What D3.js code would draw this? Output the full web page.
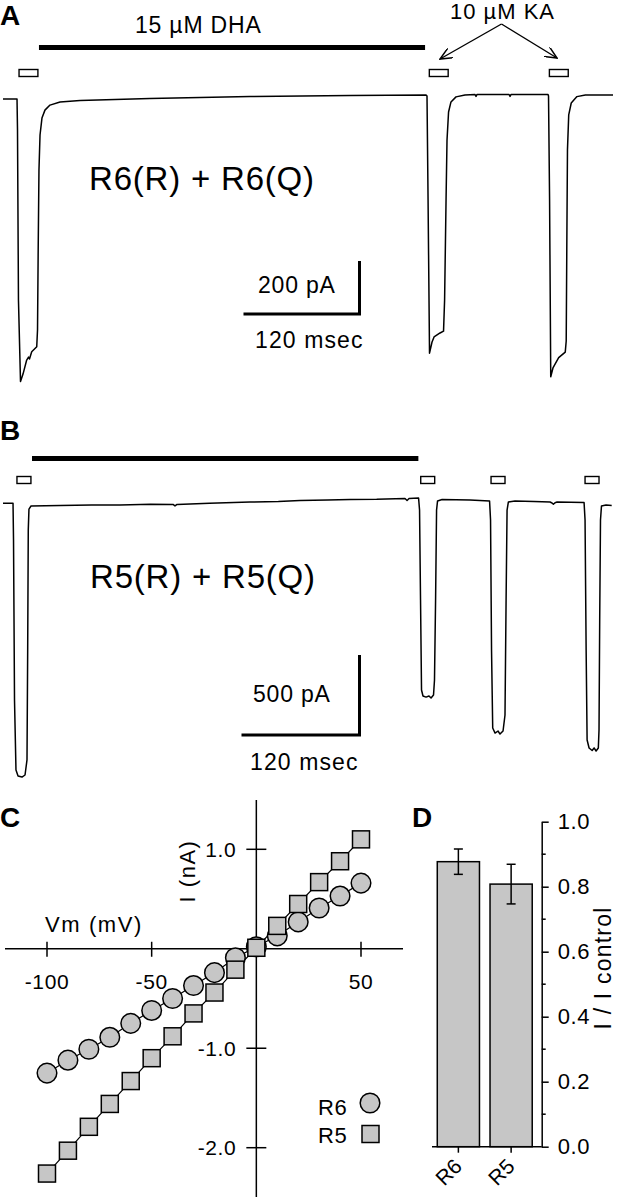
<!DOCTYPE html>
<html>
<head>
<meta charset="utf-8">
<script src="https://cdn.jsdelivr.net/npm/d3@7"></script>
<style>
  body { margin: 0; background: #fff; }
  svg { display: block; }
  text { font-family: "Liberation Sans", Arial, sans-serif; fill: #000; }
</style>
</head>
<body>
<svg width="622" height="1199"></svg>
<script>
// ---- panel A trace, time (ms) / current (pA)
var traceA = [[0,0],[14.5,0],[15,-117],[16,-759],[18.1,-1066],[20.7,-1038],[24.5,-985],[26.4,-974],[27.4,-981],
  [29.7,-954],[34.9,-935],[35.7,-872],[36.4,-570],[37.2,-268],[38.3,-136],[40.3,-72],[43.4,-42],[48.6,-23],
  [59,-11],[79.7,-6],[152,2],[255.5,9],[359,13],[437.6,15],[438.6,11],[439.7,-381],[441.2,-959],[443.8,-917],
  [445.9,-898],[452.1,-883],[455.7,-876],[456.8,-759],[458.3,-381],[459.3,-155],[460.9,-49],[463.4,-11],
  [468.6,8],[477.9,15],[488.3,17],[489.3,10],[490.4,17],[523.5,17],[524.5,10],[525.6,17],[563.8,17],[564.3,11],
  [565.4,-381],[566.6,-1048],[568.9,-1015],[574.8,-976],[581.6,-955],[582.6,-913],[583.2,-570],[583.9,-192],
  [585.2,-60],[587.8,-15],[593.7,9],[602.4,15],[631,15]];
// ---- panel B trace
var traceB = [[0,-2],[10.2,-2],[10.7,-231],[11.7,-1231],[13.2,-1669],[15.3,-1706],[19.3,-1713],[22.4,-1700],
  [24.4,-1606],[25.1,-919],[25.7,-169],[26.4,-38],[28.5,-19],[58,-16],[90,-12],[119,-13],[150,-8],[172.9,-9],
  [174.9,-18],[177,-9],[210,-2],[251.2,6],[280,9],[302,16],[330,18],[353,22],[380,23],[408.8,28],[410.9,16],
  [412.9,28],[422.6,31],[423.6,-44],[424.6,-606],[425.6,-1169],[427.1,-1206],[430.2,-1213],[433.2,-1206],
  [435.3,-1219],[437.8,-1200],[438.8,-1106],[439.9,-606],[440.9,-44],[441.9,13],[446.5,22],[474.9,19],
  [494.8,13],[495.8,-106],[496.8,-919],[498,-1406],[500.4,-1438],[503.4,-1425],[505.4,-1444],[508.5,-1425],
  [510.5,-1325],[511.6,-606],[512.6,-44],[513.9,6],[520.7,13],[540,9],[556.3,6],[558.3,0],[559.7,-8],
  [561.4,2],[563.4,6],[590.9,3],[591.9,-106],[593,-919],[594,-1481],[596,-1531],[599.1,-1547],[601.1,-1531],
  [603.1,-1550],[605.4,-1531],[606.1,-1419],[606.8,-731],[607.6,-106],[608.6,-19],[613.2,-13],[619,-16]];

// drug applications (ms)
var dhaA = [37.2, 436.6];
var kaA = [16.6, 441, 565.2];
var kaDurA = 19.5;
var dhaB = [29.5, 422.4];
var kaB = [14.2, 424.8, 496.3, 591.9];
var kaDurB = 14.2;

// ---- panel C: I-V
var ivVm = [-100,-90,-80,-70,-60,-50,-40,-30,-20,-10,0,10,20,30,40,50];
var ivR6 = [-1.25,-1.12,-1.01,-0.89,-0.75,-0.62,-0.50,-0.37,-0.24,-0.09,0.02,0.13,0.27,0.41,0.53,0.66];
var ivR5 = [-2.26,-2.03,-1.79,-1.56,-1.33,-1.10,-0.88,-0.65,-0.44,-0.21,0.01,0.23,0.45,0.67,0.88,1.10];
var vmTicks = [-100, -50, 50];
var iTicks = [1, -1, -2];

// ---- panel D
var barNames = ["R6", "R5"];
var barMeans = [0.877, 0.808];
var barErr = [0.039, 0.061];

var svg = d3.select("svg");
var gray = "#c6c6c6";
var fmt1 = function (d) { return d3.format(".1f")(d).replace("\u2212", "-"); };

svg.append("defs").append("marker")
  .attr("id", "arr").attr("viewBox", "0 0 12 10")
  .attr("refX", 11).attr("refY", 5)
  .attr("markerWidth", 13).attr("markerHeight", 11)
  .attr("markerUnits", "userSpaceOnUse").attr("orient", "auto")
  .append("path").attr("d", "M0,0 L11,5 L0,10")
  .attr("fill", "none").attr("stroke", "#000").attr("stroke-width", 1.4);

function label(x, y, txt, size, opts) {
  opts = opts || {};
  var t = svg.append("text").attr("x", x).attr("y", y)
    .style("font-size", size + "px").text(txt);
  if (opts.bold) t.style("font-weight", "bold");
  if (opts.anchor) t.attr("text-anchor", opts.anchor);
  if (opts.ls) t.style("letter-spacing", opts.ls + "px");
  if (opts.rot) t.attr("transform", "rotate(" + opts.rot + "," + x + "," + y + ")");
  return t;
}

function tracePanel(data, xs, ys, dha, dhaY, ka, kaDur, kaY, bar) {
  var line = d3.line().x(function (d) { return xs(d[0]); }).y(function (d) { return ys(d[1]); });
  svg.append("path").datum(data).attr("d", line)
    .attr("fill", "none").attr("stroke", "#000").attr("stroke-width", 1.5)
    .attr("stroke-linejoin", "round");
  svg.append("line").attr("x1", xs(dha[0])).attr("x2", xs(dha[1]))
    .attr("y1", dhaY).attr("y2", dhaY).attr("stroke", "#000").attr("stroke-width", 5);
  svg.selectAll(null).data(ka).enter().append("rect")
    .attr("x", function (d) { return xs(d); }).attr("y", kaY)
    .attr("width", function (d) { return xs(d + kaDur) - xs(d); }).attr("height", 7)
    .attr("fill", "#fff").attr("stroke", "#000").attr("stroke-width", 1.4);
  // scale bar
  var cx = bar.x, cy = bar.y;
  var w = xs(bar.ms) - xs(0), h = ys(0) - ys(bar.pA);
  svg.append("path").attr("d", "M" + (cx - w) + "," + cy + "H" + cx + "V" + (cy - h))
    .attr("fill", "none").attr("stroke", "#000").attr("stroke-width", 3);
}

// ================= A =================
var xA = d3.scaleLinear().domain([0, 631]).range([3, 613]);
var yA = d3.scaleLinear().domain([-1100, 0]).range([390.5, 99]);
label(0, 25, "A", 28, {bold: true});
label(135, 33, "15 µM DHA", 23, {ls: 0.8});
label(450, 19, "10 µM KA", 22, {ls: 1});
tracePanel(traceA, xA, yA, dhaA, 47.5, kaA, kaDurA, 69.5, {x: 359.5, y: 314, ms: 120, pA: 200});
svg.append("line").attr("x1", 501.5).attr("y1", 24).attr("x2", 440).attr("y2", 59)
  .attr("stroke", "#000").attr("stroke-width", 1.4).attr("marker-end", "url(#arr)");
svg.append("line").attr("x1", 501.5).attr("y1", 24).attr("x2", 557).attr("y2", 58)
  .attr("stroke", "#000").attr("stroke-width", 1.4).attr("marker-end", "url(#arr)");
label(89, 190, "R6(R) + R6(Q)", 33, {ls: 0.8});
label(258, 293, "200 pA", 23, {ls: 0.8});
label(255, 348, "120 msec", 23, {ls: 1.1});

// ================= B =================
var xB = d3.scaleLinear().domain([0, 619]).range([3, 611.7]);
var yB = d3.scaleLinear().domain([-1800, 100]).range([791, 487]);
label(0, 440, "B", 28, {bold: true});
tracePanel(traceB, xB, yB, dhaB, 458.5, kaB, kaDurB, 476.5, {x: 359.5, y: 735, ms: 120, pA: 500});
label(90, 588, "R5(R) + R5(Q)", 33, {ls: 0.8});
label(253, 702, "500 pA", 23, {ls: 0.8});
label(250, 770, "120 msec", 23, {ls: 1.1});

// ================= C =================
var xC = d3.scaleLinear().domain([-100, 50]).range([47, 361]);
var yC = d3.scaleLinear().domain([-2, 1]).range([1147.7, 849.3]);
label(0, 827, "C", 28, {bold: true});
var x0 = xC(0), y0 = yC(0);
svg.append("line").attr("x1", 5).attr("x2", 403).attr("y1", y0).attr("y2", y0)
  .attr("stroke", "#000").attr("stroke-width", 1.5);
svg.append("line").attr("x1", x0).attr("x2", x0).attr("y1", 800).attr("y2", 1197)
  .attr("stroke", "#000").attr("stroke-width", 1.5);
var cg = svg.append("g");
cg.selectAll(null).data(vmTicks).enter().append("line")
  .attr("x1", function (d) { return xC(d); }).attr("x2", function (d) { return xC(d); })
  .attr("y1", y0 - 7).attr("y2", y0 + 8).attr("stroke", "#000").attr("stroke-width", 1.5);
cg.selectAll(null).data(vmTicks).enter().append("text")
  .attr("x", function (d) { return xC(d); }).attr("y", y0 + 40)
  .attr("text-anchor", "middle").style("font-size", "21px").style("letter-spacing", "0.6px")
  .text(function (d) { return d; });
cg.selectAll(null).data(iTicks).enter().append("line")
  .attr("x1", x0 - 10).attr("x2", x0 + 10)
  .attr("y1", function (d) { return yC(d); }).attr("y2", function (d) { return yC(d); })
  .attr("stroke", "#000").attr("stroke-width", 1.5);
cg.selectAll(null).data(iTicks).enter().append("text")
  .attr("x", x0 - 20).attr("y", function (d) { return yC(d) + 7.5; })
  .attr("text-anchor", "end").style("font-size", "21px").style("letter-spacing", "0.6px")
  .text(fmt1);
label(45, 932, "Vm (mV)", 22, {ls: 1.6});
label(195, 871, "I (nA)", 22, {anchor: "middle", rot: -90, ls: 1.5});

var lineC = d3.line().x(function (d, i) { return xC(ivVm[i]); }).y(function (d) { return yC(d); });
svg.append("path").datum(ivR5).attr("d", lineC).attr("fill", "none").attr("stroke", "#000").attr("stroke-width", 1.2);
svg.append("path").datum(ivR6).attr("d", lineC).attr("fill", "none").attr("stroke", "#000").attr("stroke-width", 1.2);
svg.selectAll(null).data(ivR6).enter().append("circle")
  .attr("cx", function (d, i) { return xC(ivVm[i]); }).attr("cy", function (d) { return yC(d); })
  .attr("r", 9.8).attr("fill", gray).attr("stroke", "#000").attr("stroke-width", 1.5);
svg.selectAll(null).data(ivR5).enter().append("rect")
  .attr("x", function (d, i) { return xC(ivVm[i]) - 8.5; }).attr("y", function (d) { return yC(d) - 8.5; })
  .attr("width", 17).attr("height", 17).attr("fill", gray).attr("stroke", "#000").attr("stroke-width", 1.5);
// legend
label(318, 1115, "R6", 22, {ls: 0.5});
label(318, 1143, "R5", 22, {ls: 0.5});
svg.append("circle").attr("cx", 370).attr("cy", 1103).attr("r", 9.8)
  .attr("fill", gray).attr("stroke", "#000").attr("stroke-width", 1.5);
svg.append("rect").attr("x", 362).attr("y", 1125.5).attr("width", 17).attr("height", 17)
  .attr("fill", gray).attr("stroke", "#000").attr("stroke-width", 1.5);

// ================= D =================
var xD = d3.scaleBand().domain(barNames).range([432, 537.5]).paddingInner(0.2).paddingOuter(0.1);
var yD = d3.scaleLinear().domain([0, 1]).range([1146.7, 821.7]);
label(412, 827, "D", 28, {bold: true});
svg.selectAll(null).data(barNames).enter().append("rect")
  .attr("x", function (d) { return xD(d); }).attr("width", xD.bandwidth())
  .attr("y", function (d, i) { return yD(barMeans[i]); })
  .attr("height", function (d, i) { return yD(0) - yD(barMeans[i]); })
  .attr("fill", gray).attr("stroke", "#000").attr("stroke-width", 1.5);
var eg = svg.append("g").attr("stroke", "#000").attr("stroke-width", 1.5);
barNames.forEach(function (d, i) {
  var cx = xD(d) + xD.bandwidth() / 2;
  var hi = yD(barMeans[i] + barErr[i]), lo = yD(barMeans[i] - barErr[i]);
  eg.append("line").attr("x1", cx).attr("x2", cx).attr("y1", hi).attr("y2", lo);
  eg.append("line").attr("x1", cx - 4.5).attr("x2", cx + 4.5).attr("y1", hi).attr("y2", hi);
  eg.append("line").attr("x1", cx - 4.5).attr("x2", cx + 4.5).attr("y1", lo).attr("y2", lo);
  eg.append("line").attr("x1", cx).attr("x2", cx).attr("y1", yD(0)).attr("y2", yD(0) + 6);
  label(cx + 5, yD(0) + 21, d, 21, {anchor: "end", rot: -45});
});
svg.append("line").attr("x1", 432).attr("x2", 541.7).attr("y1", yD(0)).attr("y2", yD(0))
  .attr("stroke", "#000").attr("stroke-width", 1.5);
var axD = svg.append("g").attr("transform", "translate(541.7,0)")
  .call(d3.axisRight(yD).tickValues([0, 0.2, 0.4, 0.6, 0.8, 1.0]).tickFormat(fmt1)
    .tickSizeInner(7).tickSizeOuter(0).tickPadding(9));
axD.select(".domain").attr("stroke-width", 1.5);
axD.selectAll(".tick line").attr("stroke-width", 1.5);
axD.selectAll(".tick text").style("font-size", "22px").style("letter-spacing", "0.6px")
  .style("font-family", "'Liberation Sans', Arial, sans-serif").attr("fill", "#000");
axD.selectAll(null).data([0.1, 0.3, 0.5, 0.7, 0.9]).enter().append("line")
  .attr("x1", 0).attr("x2", 4).attr("y1", function (d) { return yD(d); }).attr("y2", function (d) { return yD(d); })
  .attr("stroke", "#000").attr("stroke-width", 1.5);
label(611, 968, "I / I control", 23, {anchor: "middle", rot: -90, ls: 1.2});
</script>
</body>
</html>
